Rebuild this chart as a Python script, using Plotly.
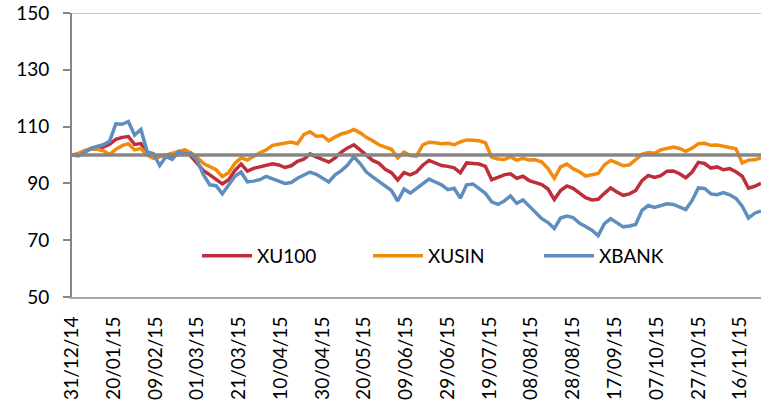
import pandas as pd
import plotly.graph_objects as go

START = "2014-12-31"
STEP_DAYS = 3

XU100 = [100, 100.3, 101, 102.3, 102.5, 102.8, 103.8, 105.5, 106.2, 106.5,
         103.7, 104, 100.5, 99.2, 99.5, 100, 99.4, 100.2, 101, 99.5,
         97.2, 94.5, 93, 91.5, 89.8, 91.3, 94.5, 96.8, 94.3, 95.3,
         95.8, 96.2, 96.9, 96.5, 95.6, 96.2, 97.8, 98.5, 100.4, 99.3,
         98.3, 97.5, 99, 101, 102.5, 103.6, 101.8, 100, 98.1, 97.1,
         95, 93.8, 91.2, 93.8, 93, 94, 96.4, 98.1, 97.2, 96.3,
         96, 95.5, 93.8, 97.2, 97, 96.8, 96, 91.3, 92.1, 93,
         93.4, 91.8, 92.5, 91, 90.3, 89.6, 88, 84.3, 87.5, 89.1,
         88.3, 86.8, 85, 84.2, 84.4, 86.5, 88.4, 87, 85.8, 86.3,
         87.5, 91, 92.8, 92.1, 92.7, 94.3, 94.4, 93.4, 92, 94,
         97.4, 97, 95.4, 95.8, 94.8, 95.2, 94.1, 92.5, 88.3, 89, 90]

XUSIN = [100, 100.5, 101.6, 102, 102, 101.5, 100.2, 102, 103.3, 104,
         101.8, 102.3, 100, 98.8, 99.4, 100, 100.4, 101, 101.8, 100.8,
         99.2, 97, 96, 94.8, 92.4, 93.8, 97, 99, 98.2, 99.6,
         100.8, 101.8, 103.4, 103.8, 104.3, 104.6, 104, 107.2, 108.2, 106.6,
         106.8, 105, 106.3, 107.4, 108, 109, 107.8, 106.2, 105, 103.6,
         102.8, 102, 99, 101, 99.8, 99.6, 103.6, 104.5, 104.3, 104,
         104.1, 103.6, 104.6, 105.3, 105.2, 105, 104.3, 99.2, 98.6, 98.4,
         99.3, 98.2, 98.8, 98.2, 98.3, 97.5, 95.2, 91.8, 95.8, 96.8,
         95.2, 94.1, 92.6, 92.9, 93.5, 96.5, 98.1, 97.2, 96.2, 96.5,
         98.5, 100.2, 100.9, 100.6, 101.8, 102.2, 102.8, 102.3, 101.3, 102.4,
         104, 104.1, 103.4, 103.5, 103, 102.5, 102.2, 97.2, 98.2, 98.3, 99]

XBANK = [100, 99.7, 101, 102.3, 103, 103.6, 104.8, 111, 110.8, 111.8,
         107, 109, 101.2, 100.5, 96.3, 99.4, 98.5, 101.3, 100.3, 100.5,
         98, 93, 89.5, 89.2, 86.3, 89.5, 92.5, 94, 90.5, 90.8,
         91.3, 92.5, 91.8, 90.8, 90, 90.3, 91.8, 93, 94, 93.2,
         92, 90.5, 93, 94.5, 96.5, 99.4, 97, 94, 92.3, 90.6,
         89, 87.5, 83.8, 88, 86.6, 88.3, 90, 91.5, 90.5, 89.5,
         87.8, 88.3, 84.8, 89.5, 89.8, 88.2, 86.5, 83.5, 82.6, 83.8,
         85.6, 83, 84.2, 82, 80, 77.6, 76.2, 74.1, 77.8, 78.5,
         78, 76, 74.8, 73.5, 71.6, 75.8, 77.6, 76.2, 74.7, 75,
         75.5, 80.5, 82.2, 81.5, 82.2, 82.8, 82.6, 81.6, 80.8, 84,
         88.4, 88.2, 86.3, 86, 86.8, 86, 84.7, 82, 77.8, 79.5, 80.3]

BASE = 100
TICK_LABELS = ["31/12/14", "20/01/15", "09/02/15", "01/03/15", "21/03/15",
               "10/04/15", "30/04/15", "20/05/15", "09/06/15", "29/06/15",
               "19/07/15", "08/08/15", "28/08/15", "17/09/15", "07/10/15",
               "27/10/15", "16/11/15"]
Y_TICKS = [50, 70, 90, 110, 130, 150]

dates = pd.date_range(START, periods=len(XU100), freq=f"{STEP_DAYS}D")
tick_dates = [pd.to_datetime(t, format="%d/%m/%y") for t in TICK_LABELS]
x_end = dates[-1]

W, H = 761, 402
ML, MT, MB = 72, 13, 105
PW = W - ML
PH = H - MT - MB

FONT = "Lato"
fig = go.Figure()
for name, vals, col in [("XU100", XU100, "#BE2E3A"),
                        ("XUSIN", XUSIN, "#F28A0C"),
                        ("XBANK", XBANK, "#5E8EBF")]:
    fig.add_trace(go.Scatter(x=dates, y=vals, name=name, mode="lines",
                             line=dict(color=col, width=3.5)))
fig.add_trace(go.Scatter(x=[dates[0], x_end], y=[BASE, BASE], mode="lines",
                         line=dict(color="#868686", width=3.5), showlegend=False,
                         hoverinfo="skip"))

fig.add_shape(type="line", xref="paper", yref="y", x0=0, x1=1, y0=150, y1=150,
              line=dict(color="#C8C8C8", width=2))

fig.update_layout(
    width=W, height=H,
    margin=dict(l=ML, r=0, t=MT, b=MB),
    plot_bgcolor="white", paper_bgcolor="white",
    font=dict(family=FONT, size=19, color="#000000"),
    showlegend=True,
    legend=dict(orientation="h", x=(197 - ML) / PW, xanchor="left",
                y=(297 - 256) / PH, yanchor="middle",
                bgcolor="rgba(0,0,0,0)", font=dict(size=19, family=FONT),
                entrywidth=106, itemwidth=50),
    xaxis=dict(type="date", range=[dates[0], x_end], showgrid=False,
               tickvals=tick_dates, ticktext=TICK_LABELS, tickangle=-90,
               ticks="", showline=True, linecolor="#A6A6A6", linewidth=2,
               ticklabelstandoff=10, zeroline=False,
               tickfont=dict(size=19, family=FONT)),
    yaxis=dict(range=[50, 150], tickvals=Y_TICKS, showgrid=False,
               zeroline=False, showline=True, linecolor="#868686", linewidth=2,
               ticks="outside", ticklen=7, tickcolor="#868686", tickwidth=2,
               ticklabelstandoff=10, tickfont=dict(size=19, family=FONT)),
)

fig.write_html("out.html",
               config={"displayModeBar": False},
               post_script="document.body.style.margin='0px';"
                           "document.body.style.overflow='hidden';")
